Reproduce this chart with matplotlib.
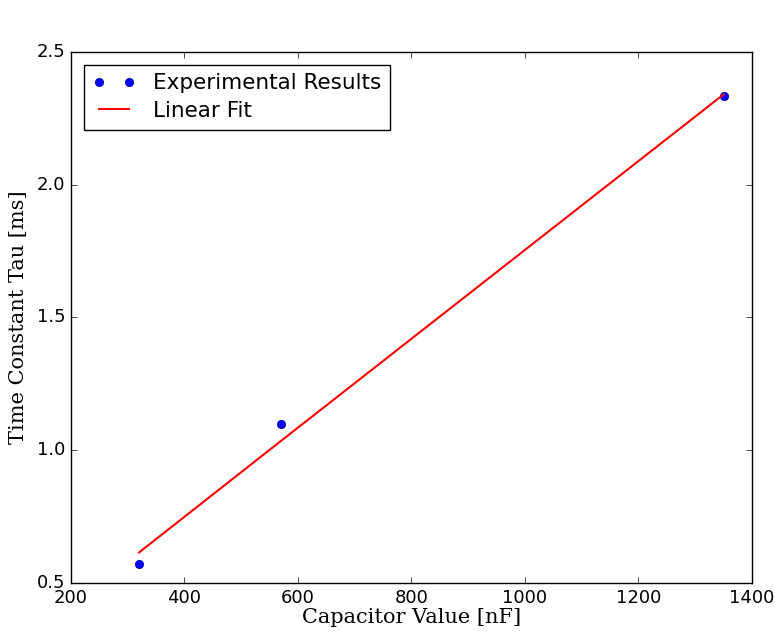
import matplotlib
matplotlib.use("Agg")
import matplotlib.pyplot as plt

# capacitor values (nF) and measured time constants (ms)
cap_nf = [320, 570, 1350]
tau_ms = [0.57, 1.10, 2.335]

# linear fit line
fit_x = [320, 570, 1350]
fit_y = [0.615, 1.035, 2.34]

plt.style.use('classic')
fig = plt.figure(figsize=(7.75, 6.33), dpi=100)
ax = fig.add_axes([0.0916, 0.079, 0.8787, 0.839])

ax.plot(cap_nf, tau_ms, 'bo', markersize=6, markeredgecolor='#0000a0', label='Experimental Results')
ax.plot(fit_x, fit_y, 'r-', linewidth=1.5, label='Linear Fit')

ax.set_xlim(200, 1400)
ax.set_ylim(0.5, 2.5)
ax.set_xticks([200, 400, 600, 800, 1000, 1200, 1400])
ax.set_yticks([0.5, 1.0, 1.5, 2.0, 2.5])
ax.tick_params(labelsize=13)

ax.set_xlabel('Capacitor Value [nF]', family='DejaVu Serif', fontsize=15, labelpad=1)
ax.set_ylabel('Time Constant Tau [ms]', family='DejaVu Serif', fontsize=15, labelpad=6)

ax.legend(loc='upper left', numpoints=2, fontsize=15.5, borderaxespad=0.6,
          labelspacing=0.35, borderpad=0.4)

fig.savefig('out.png', dpi=100, facecolor='white')
